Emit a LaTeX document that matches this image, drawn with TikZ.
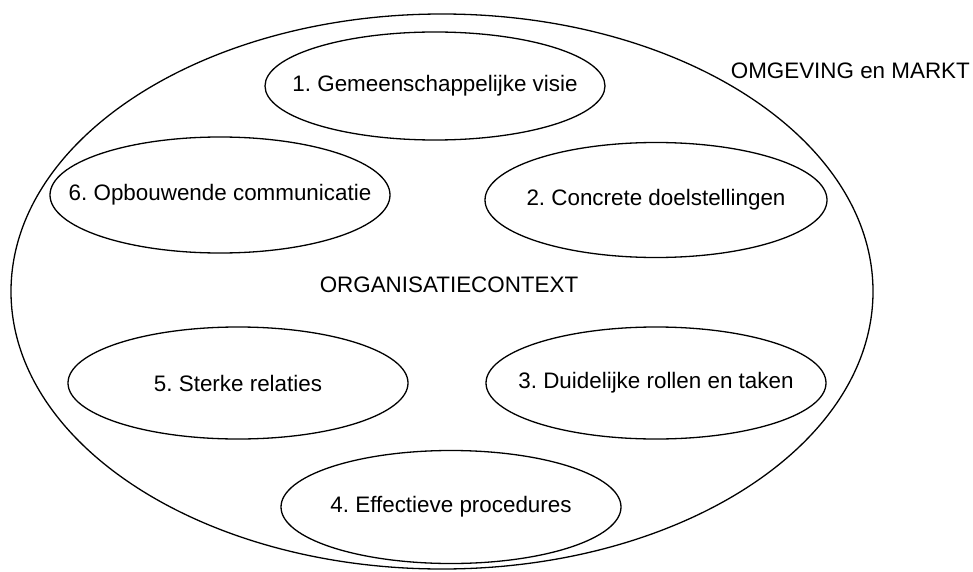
\documentclass[tikz,border=0pt]{standalone}
\usepackage{fontspec}
\setmainfont{Liberation Sans}
\usepackage{tikz}
\usetikzlibrary{shapes.geometric}
\frenchspacing
\newcommand{\topictext}[1]{\makebox[0pt]{#1}}
\tikzset{
  topic/.style={draw, ellipse, line width=1.3pt, inner sep=0pt,
    minimum width=340pt, minimum height=112pt},
  label/.style={inner sep=0pt}
}

\begin{document}
\begin{tikzpicture}[x=1pt, y=-1pt, font=\fontsize{22.4}{27}\selectfont]
    \useasboundingbox (0, 0) rectangle (973, 572);

    \draw [line width=1.3pt] (442, 291.5) ellipse [x radius=431, y radius=277.5];

    \node [topic, minimum height=108pt] (visie) at (435, 86) {\topictext{1. Gemeenschappelijke visie}};
    \node [topic, minimum width=342pt, minimum height=115pt] (doelen) at (656, 200) {\topictext{2. Concrete doelstellingen}};
    \node [topic] (rollen) at (656, 383) {\topictext{3. Duidelijke rollen en taken}};
    \node [topic, minimum height=113pt] (procedures) at (451, 507) {\topictext{4. Effectieve procedures}};
    \node [topic] (relaties) at (238, 383) {\topictext{5. Sterke relaties}};
    \node [topic, minimum height=116pt] (communicatie) at (220, 195) {\topictext{6. Opbouwende communicatie}};

    \node [label] (context) at (449, 285) {ORGANISATIECONTEXT};
    \node [label, anchor=east] (markt) at (970, 71) {OMGEVING en MARKT};
  \end{tikzpicture}
\end{document}
